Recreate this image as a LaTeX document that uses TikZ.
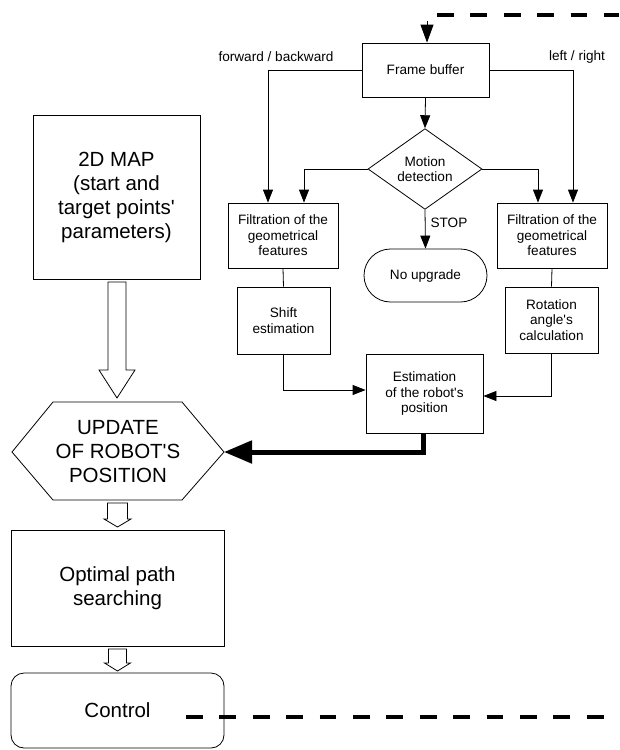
\documentclass[tikz,border=0pt]{standalone}
\usepackage{fontspec}
\setmainfont{Liberation Sans}[Ligatures=TeXOff]
\usetikzlibrary{arrows.meta,shapes.misc,shapes.geometric}
\newcommand\smallf{\fontsize{13.6}{15.5}\selectfont}
\newcommand\bigf{\fontsize{20.5}{24}\selectfont}
\newcommand\hollowdn[6]{% x, ytop, yhead, ytip, shafthalf, headhalf
  \draw[line width=0.8, fill=white] (#1-#5,#2) -- (#1+#5,#2) -- (#1+#5,#3) -- (#1+#6,#3) -- (#1,#4) -- (#1-#6,#3) -- (#1-#5,#3) -- cycle;}
\begin{document}
\begin{tikzpicture}[x=1pt,y=-1pt,
  box/.style={draw, line width=0.8, align=center, font=\smallf, inner sep=2},
  bigbox/.style={draw, line width=0.8, align=center, font=\bigf, inner sep=2},
  lbl/.style={font=\smallf, inner sep=0},
  arr/.style={-{Triangle[length=13,width=10]}, line width=0.8},
  plain/.style={line width=0.8},
  thickarr/.style={-{Triangle[length=28,width=22]}, line width=5},
  dashline/.style={line width=4, dash pattern=on 16.7 off 16.7}]
\useasboundingbox (0,0) rectangle (619,750);

% right-hand chain
\node[box, minimum width=127, minimum height=54] (fb) at (425.5,70) {Frame buffer};
\node[box, diamond, minimum width=114, minimum height=78, inner sep=0] (md) at (425,169) {Motion\\detection};
\node[box, minimum width=110, minimum height=65] (fl) at (283,235.5) {Filtration of the\\geometrical\\features};
\node[box, minimum width=110, minimum height=65] (fr) at (552,235.5) {Filtration of the\\geometrical\\features};
\node[box, rounded rectangle, minimum width=127, minimum height=53] (nu) at (425.5,275.5) {No upgrade};
\node[box, minimum width=93, minimum height=67] (sh) at (283.5,320.5) {Shift\\estimation};
\node[box, minimum width=93, minimum height=66] (ro) at (551.5,320) {Rotation\\angle's\\calculation};
\node[box, minimum width=117, minimum height=79] (es) at (424.5,393.5) {Estimation\\of the robot's\\position};

\node[lbl] (lfb) at (276,57) {forward / backward};
\node[lbl] (llr) at (577,57) {left / right};
\node[lbl] (lstop) at (449,223) {STOP};

% left column
\node[bigbox, minimum width=167, minimum height=164] (map) at (116.5,197) {2D MAP\\(start and\\target points'\\parameters)};
\coordinate (hW) at (12,452);
\coordinate (hNW) at (53,402);
\coordinate (hNE) at (182,402);
\coordinate (hE) at (224,452);
\coordinate (hSE) at (182,500);
\coordinate (hSW) at (53,500);
\draw[line width=0.8] (hW) -- (hNW) -- (hNE) -- (hE) -- (hSE) -- (hSW) -- cycle;
\node[font=\bigf, align=center] (upd) at (118,452) {UPDATE\\OF ROBOT'S\\POSITION};
\node[bigbox, minimum width=213, minimum height=116] (opt) at (117.5,588) {Optimal path\\searching};
\node[bigbox, rounded corners=13, minimum width=213, minimum height=75] (ctl) at (117.5,710.5) {\raisebox{-3pt}{Control}};

% hollow arrows
\hollowdn{117}{282}{370}{398}{9}{18}
\hollowdn{117.5}{503}{519}{527}{10}{13.5}
\hollowdn{117.5}{649}{663}{671}{9}{13}

% connectors
\coordinate (topin) at (427,21);
\draw[-{Triangle[length=18,width=13]}, line width=0.8] (topin) -- (topin |- fb.north);
\draw[arr] (fb.south) -- (md.north);
\draw[arr] (fb.west) -| ([xshift=-15]fl.north);
\draw[arr] (md.west) -| ([xshift=21]fl.north);
\draw[arr] (fb.east) -| ([xshift=21]fr.north);
\draw[arr] (md.east) -| ([xshift=-14]fr.north);
\draw[arr] (md.south) -- (nu.north);
\draw[plain] (fl.south) -- (sh.north);
\draw[plain] (fr.south) -- (ro.north);
\draw[arr] (sh.south) |- ([yshift=3.5]es.west);
\draw[arr] (ro.south) |- ([yshift=-2.5]es.east);
\draw[thickarr] ([xshift=-1.5]es.south) |- (hE);

% dashed feedback
\coordinate (d1) at (437,15);
\coordinate (d2) at (619,15);
\coordinate (d3) at (186,717);
\coordinate (d4) at (619,717);
\draw[dashline] (d1) -- (d2);
\draw[dashline] (d3) -- (d4);
\end{tikzpicture}
\end{document}
